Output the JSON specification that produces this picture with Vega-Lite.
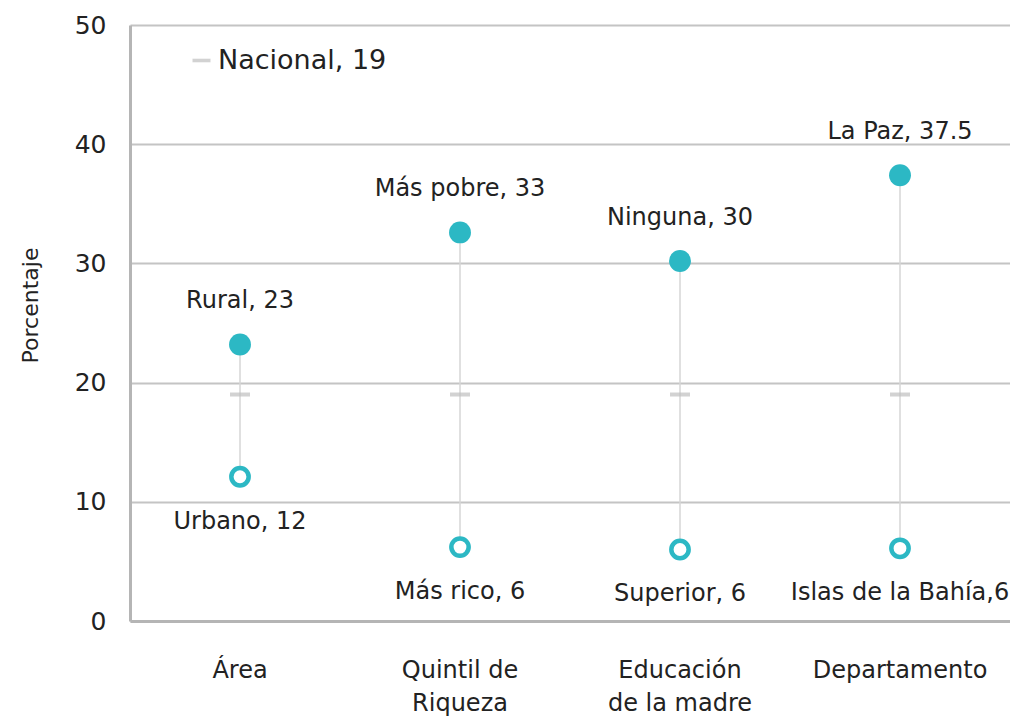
{
  "$schema": "https://vega.github.io/schema/vega-lite/v6.json",
  "width": 880,
  "height": 596,
  "autosize": {"type": "none"},
  "padding": {"left": 130, "top": 25, "right": 0, "bottom": 98},
  "background": "white",
  "config": {
    "font": "DejaVu Sans",
    "view": {"stroke": null},
    "text": {"font": "DejaVu Sans"}
  },
  "data": {
    "values": [
      {"cat": "Área", "alto": 23.2, "bajo": 12.1, "nacional": 19, "serie": "Nacional, 19", "lbl_alto": "Rural, 23", "lbl_bajo": "Urbano, 12"},
      {"cat": "Quintil de|Riqueza", "alto": 32.6, "bajo": 6.2, "nacional": 19, "serie": "Nacional, 19", "lbl_alto": "Más pobre, 33", "lbl_bajo": "Más rico, 6"},
      {"cat": "Educación|de la madre", "alto": 30.2, "bajo": 6.0, "nacional": 19, "serie": "Nacional, 19", "lbl_alto": "Ninguna, 30", "lbl_bajo": "Superior, 6"},
      {"cat": "Departamento", "alto": 37.4, "bajo": 6.1, "nacional": 19, "serie": "Nacional, 19", "lbl_alto": "La Paz, 37.5", "lbl_bajo": "Islas de la Bahía,6"}
    ]
  },
  "encoding": {
    "x": {
      "field": "cat",
      "type": "nominal",
      "sort": null,
      "scale": {"paddingInner": 0, "paddingOuter": 0},
      "axis": {
        "title": null,
        "labelAngle": 0,
        "labelExpr": "split(datum.label, '|')",
        "labelFontSize": 24,
        "labelColor": "#222222",
        "labelLineHeight": 33,
        "labelBaseline": "top",
        "labelPadding": 37,
        "labelLimit": 400,
        "ticks": false,
        "tickSize": 0,
        "domainColor": "#b5b5b5",
        "domainWidth": 3,
        "grid": false
      }
    }
  },
  "layer": [
    {
      "mark": {"type": "rule", "color": "#d6d6d6", "strokeWidth": 1.5},
      "encoding": {
        "y": {
          "field": "bajo",
          "type": "quantitative",
          "scale": {"domain": [0, 50]},
          "axis": {
            "title": "Porcentaje",
            "titleFontSize": 22,
            "titleFontWeight": "normal",
            "titleColor": "#222222",
            "titleX": -100,
            "titleY": 280,
            "titleAngle": 270,
            "titleBaseline": "middle",
            "values": [0, 10, 20, 30, 40, 50],
            "labelFontSize": 25,
            "labelColor": "#222222",
            "labelPadding": 24,
            "ticks": false,
            "tickSize": 0,
            "domainColor": "#b5b5b5",
            "domainWidth": 3,
            "grid": true,
            "gridColor": "#c4c4c4",
            "gridWidth": 2
          }
        },
        "y2": {"field": "alto"}
      }
    },
    {
      "mark": {"type": "tick", "thickness": 4, "size": 20, "orient": "horizontal"},
      "encoding": {
        "y": {"field": "nacional", "type": "quantitative"},
        "color": {
          "field": "serie",
          "type": "nominal",
          "scale": {"range": ["#bfbfbf"]},
          "legend": {
            "title": null,
            "orient": "none",
            "legendX": 58,
            "legendY": 22,
            "padding": 0,
            "labelFontSize": 27,
            "labelLimit": 400,
            "labelColor": "#222222",
            "labelOffset": 3,
            "symbolType": "M-1,-0.2H1V0.2H-1Z",
            "symbolSize": 324,
            "symbolFillColor": "#bfbfbf",
            "symbolStrokeWidth": 0
          }
        }
      }
    },
    {
      "mark": {"type": "circle", "color": "#2cb8c4", "opacity": 1, "size": 480},
      "encoding": {"y": {"field": "alto", "type": "quantitative"}}
    },
    {
      "mark": {"type": "point", "shape": "circle", "filled": false, "color": "#2cb8c4", "fill": "white", "fillOpacity": 1, "opacity": 1, "strokeWidth": 4.5, "size": 300},
      "encoding": {"y": {"field": "bajo", "type": "quantitative"}}
    },
    {
      "mark": {"type": "text", "fontSize": 24, "color": "#222222", "dy": -43, "baseline": "middle"},
      "encoding": {
        "y": {"field": "alto", "type": "quantitative"},
        "text": {"field": "lbl_alto"}
      }
    },
    {
      "mark": {"type": "text", "fontSize": 24, "color": "#222222", "dy": 45, "baseline": "middle"},
      "encoding": {
        "y": {"field": "bajo", "type": "quantitative"},
        "text": {"field": "lbl_bajo"}
      }
    }
  ]
}
